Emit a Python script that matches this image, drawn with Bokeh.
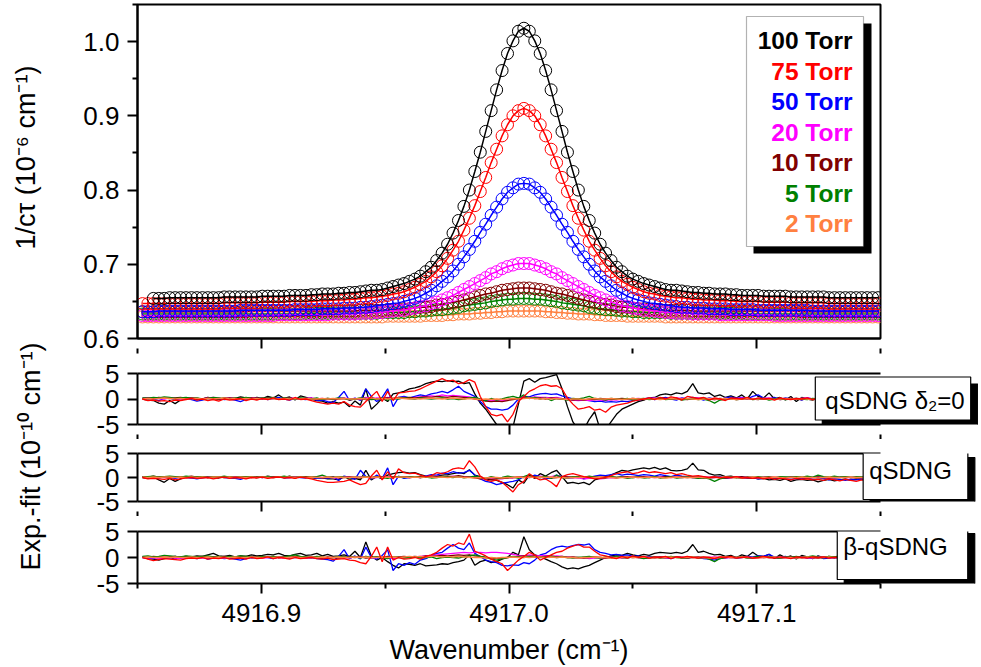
import math
from bokeh.plotting import figure
from bokeh.models import Range1d, FixedTicker, LinearAxis, Label, BoxAnnotation
from bokeh.layouts import column, row
from bokeh.embed import file_html
from bokeh.resources import INLINE

nan = float("nan")

# ---------------- data ----------------
WAVENUMBER = [
 4916.8520, 4916.8542, 4916.8564, 4916.8586, 4916.8608, 4916.8630, 4916.8652, 4916.8674, 4916.8696, 4916.8718,
 4916.8740, 4916.8762, 4916.8784, 4916.8806, 4916.8828, 4916.8850, 4916.8872, 4916.8894, 4916.8916, 4916.8938,
 4916.8960, 4916.8982, 4916.9004, 4916.9026, 4916.9048, 4916.9070, 4916.9092, 4916.9114, 4916.9136, 4916.9158,
 4916.9180, 4916.9202, 4916.9224, 4916.9246, 4916.9268, 4916.9290, 4916.9312, 4916.9334, 4916.9356, 4916.9378,
 4916.9400, 4916.9422, 4916.9444, 4916.9466, 4916.9488, 4916.9510, 4916.9532, 4916.9554, 4916.9576, 4916.9598,
 4916.9620, 4916.9642, 4916.9664, 4916.9686, 4916.9708, 4916.9730, 4916.9752, 4916.9774, 4916.9796, 4916.9818,
 4916.9840, 4916.9862, 4916.9884, 4916.9906, 4916.9928, 4916.9950, 4916.9972, 4916.9994, 4917.0016, 4917.0038,
 4917.0060, 4917.0082, 4917.0104, 4917.0126, 4917.0148, 4917.0170, 4917.0192, 4917.0214, 4917.0236, 4917.0258,
 4917.0280, 4917.0302, 4917.0324, 4917.0346, 4917.0368, 4917.0390, 4917.0412, 4917.0434, 4917.0456, 4917.0478,
 4917.0500, 4917.0522, 4917.0544, 4917.0566, 4917.0588, 4917.0610, 4917.0632, 4917.0654, 4917.0676, 4917.0698,
 4917.0720, 4917.0742, 4917.0764, 4917.0786, 4917.0808, 4917.0830, 4917.0852, 4917.0874, 4917.0896, 4917.0918,
 4917.0940, 4917.0962, 4917.0984, 4917.1006, 4917.1028, 4917.1050, 4917.1072, 4917.1094, 4917.1116, 4917.1138,
 4917.1160, 4917.1182, 4917.1204, 4917.1226, 4917.1248, 4917.1270, 4917.1292, 4917.1314, 4917.1336, 4917.1358,
 4917.1380, 4917.1402, 4917.1424, 4917.1446, 4917.1468, 4917.1490]

PRESSURES = ["100 Torr", "75 Torr", "50 Torr", "20 Torr", "10 Torr", "5 Torr", "2 Torr"]
COLORS = ["#000000", "#FF0000", "#0000FF", "#FF00FF", "#800000", "#008000", "#FF8040"]

# 1/(c tau), 10^-6 cm^-1
INV_CTAU_100 = [
 nan, nan, .654, .654, .654, .655, .655, .655, .655, .655,
 .655, .655, .655, .655, .655, .656, .656, .656, .656, .656,
 .656, .656, .657, .657, .657, .657, .657, .658, .658, .658,
 .658, .659, .659, .660, .660, .660, .661, .661, .662, .662,
 .663, .664, .665, .665, .666, .668, .670, .672, .674, .677,
 .680, .684, .690, .696, .705, .715, .727, .742, .759, .778,
 .800, .825, .851, .879, .907, .935, .961, .984, 1.001, 1.014,
 1.018, 1.014, 1.001, .984, .961, .935, .907, .879, .851, .825,
 .800, .778, .759, .742, .727, .715, .705, .696, .690, .684,
 .680, .677, .674, .672, .670, .668, .666, .665, .665, .664,
 .663, .662, .662, .661, .661, .660, .660, .660, .659, .659,
 .658, .658, .658, .658, .657, .657, .657, .657, .657, .656,
 .656, .656, .656, .656, .656, .656, .655, .655, .655, .655,
 .655, .655, .655, .655, .655, .655]
INV_CTAU_75 = [
 .647, .647, .647, .647, .647, .647, .647, .647, .647, .647,
 .647, .647, .647, .647, .647, .648, .648, .648, .648, .648,
 .648, .648, .649, .649, .649, .649, .649, .650, .650, .650,
 .650, .650, .651, .651, .651, .652, .652, .652, .653, .653,
 .654, .655, .655, .656, .657, .658, .660, .661, .663, .666,
 .669, .673, .677, .683, .690, .698, .708, .719, .731, .746,
 .762, .779, .798, .817, .837, .855, .873, .888, .900, .907,
 .910, .907, .900, .888, .873, .855, .837, .817, .798, .779,
 .762, .746, .731, .719, .708, .698, .690, .683, .677, .673,
 .669, .666, .663, .661, .660, .658, .657, .656, .655, .655,
 .654, .653, .653, .652, .652, .652, .651, .651, .651, .650,
 .650, .650, .650, .650, .649, .649, .649, .649, .649, .648,
 .648, .648, .648, .648, .648, .648, .647, .647, .647, .647,
 .647, .647, .647, .647, .647, .647]
INV_CTAU_50 = [
 .636, .636, .636, .637, .637, .637, .637, .637, .637, .637,
 .637, .637, .637, .637, .637, .637, .637, .637, .638, .638,
 .638, .638, .638, .638, .638, .638, .638, .638, .639, .639,
 .639, .639, .639, .640, .640, .640, .640, .641, .641, .641,
 .642, .642, .643, .644, .645, .646, .647, .648, .650, .652,
 .654, .657, .661, .665, .671, .677, .683, .691, .700, .710,
 .720, .731, .743, .754, .766, .777, .788, .797, .803, .808,
 .809, .808, .803, .797, .788, .777, .766, .754, .743, .731,
 .720, .710, .700, .691, .683, .677, .671, .665, .661, .657,
 .654, .652, .650, .648, .647, .646, .645, .644, .643, .642,
 .642, .641, .641, .641, .640, .640, .640, .640, .639, .639,
 .639, .639, .639, .638, .638, .638, .638, .638, .638, .638,
 .638, .638, .638, .637, .637, .637, .637, .637, .637, .637,
 .637, .637, .637, .637, .637, .637]
INV_CTAU_20 = [
 .631, .631, .631, .631, .631, .631, .631, .631, .631, .631,
 .631, .631, .631, .631, .631, .631, .631, .631, .631, .631,
 .631, .631, .631, .631, .631, .632, .632, .632, .632, .632,
 .632, .632, .632, .632, .632, .633, .633, .633, .633, .633,
 .634, .634, .634, .635, .635, .636, .637, .638, .638, .640,
 .641, .643, .644, .647, .649, .652, .655, .658, .662, .666,
 .670, .674, .678, .682, .687, .690, .694, .697, .699, .701,
 .701, .701, .699, .697, .694, .690, .687, .682, .678, .674,
 .670, .666, .662, .658, .655, .652, .649, .647, .644, .643,
 .641, .640, .638, .638, .637, .636, .635, .635, .634, .634,
 .634, .633, .633, .633, .633, .633, .632, .632, .632, .632,
 .632, .632, .632, .632, .632, .632, .631, .631, .631, .631,
 .631, .631, .631, .631, .631, .631, .631, .631, .631, .631,
 .631, .631, .631, .631, .631, .631]
INV_CTAU_10 = [
 .636, .636, .636, .636, .636, .636, .636, .636, .636, .636,
 .636, .636, .636, .636, .636, .636, .636, .636, .636, .636,
 .637, .637, .637, .637, .637, .637, .637, .637, .637, .637,
 .637, .637, .637, .637, .637, .637, .637, .637, .637, .637,
 .638, .638, .638, .638, .638, .639, .639, .639, .640, .640,
 .641, .642, .642, .643, .645, .646, .647, .649, .650, .652,
 .654, .656, .658, .660, .661, .663, .665, .666, .667, .668,
 .668, .668, .667, .666, .665, .663, .661, .660, .658, .656,
 .654, .652, .650, .649, .647, .646, .645, .643, .642, .642,
 .641, .640, .640, .639, .639, .639, .638, .638, .638, .638,
 .638, .637, .637, .637, .637, .637, .637, .637, .637, .637,
 .637, .637, .637, .637, .637, .637, .637, .637, .637, .637,
 .637, .636, .636, .636, .636, .636, .636, .636, .636, .636,
 .636, .636, .636, .636, .636, .636]
INV_CTAU_5 = [
 .633, .633, .633, .633, .633, .633, .633, .633, .633, .633,
 .633, .633, .633, .633, .633, .633, .633, .633, .633, .633,
 .633, .633, .633, .633, .633, .633, .633, .633, .633, .633,
 .634, .634, .634, .634, .634, .634, .634, .634, .634, .634,
 .634, .634, .634, .634, .635, .635, .635, .635, .635, .636,
 .636, .637, .637, .638, .639, .639, .640, .641, .642, .644,
 .645, .646, .647, .648, .650, .651, .652, .653, .653, .654,
 .654, .654, .653, .653, .652, .651, .650, .648, .647, .646,
 .645, .644, .642, .641, .640, .639, .639, .638, .637, .637,
 .636, .636, .635, .635, .635, .635, .635, .634, .634, .634,
 .634, .634, .634, .634, .634, .634, .634, .634, .634, .634,
 .634, .633, .633, .633, .633, .633, .633, .633, .633, .633,
 .633, .633, .633, .633, .633, .633, .633, .633, .633, .633,
 .633, .633, .633, .633, .633, .633]
INV_CTAU_2 = [
 .629, .629, .629, .629, .629, .629, .629, .629, .629, .629,
 .629, .629, .629, .629, .629, .629, .629, .629, .629, .629,
 .629, .629, .629, .629, .629, .629, .629, .629, .629, .629,
 .629, .629, .629, .629, .629, .629, .629, .629, .629, .629,
 .629, .629, .629, .629, .629, .630, .630, .630, .630, .630,
 .630, .630, .631, .631, .631, .631, .632, .632, .633, .633,
 .633, .634, .634, .635, .635, .636, .636, .637, .637, .637,
 .637, .637, .637, .637, .636, .636, .635, .635, .634, .634,
 .633, .633, .633, .632, .632, .631, .631, .631, .631, .630,
 .630, .630, .630, .630, .630, .630, .629, .629, .629, .629,
 .629, .629, .629, .629, .629, .629, .629, .629, .629, .629,
 .629, .629, .629, .629, .629, .629, .629, .629, .629, .629,
 .629, .629, .629, .629, .629, .629, .629, .629, .629, .629,
 .629, .629, .629, .629, .629, .629]

# Residuals exp.-fit, 10^-10 cm^-1 ; model qSDNG with delta2 = 0
RES_D0_100 = [
 0.0, -0.2, -0.3, -0.8, -1.0, -0.3, -0.9, -0.2, 0.1, 0.2,
 -0.1, 0.0, 0.3, 0.1, -0.1, 0.2, 0.0, 0.1, 0.4, 0.2,
 0.0, 0.3, 0.1, 0.5, 0.2, 0.8, 0.1, 0.4, -0.2, 0.6,
 0.3, 0.0, -0.3, -0.4, -0.8, -0.5, -0.8, -0.6, -1.5, -0.4,
 -1.2, 2.0, -2.0, -1.0, 0.2, -0.5, 1.0, 1.2, 1.5, 2.0,
 2.2, 2.5, 3.0, 3.3, 3.5, 3.4, 3.6, 3.4, 3.5, 3.0,
 3.2, 1.0, -0.8, -2.0, -3.5, -5.0, -5.8, -6.0, -5.5, -1.0,
 3.5, 4.0, 3.3, 4.0, 4.2, 4.5, 4.8, 2.0, -1.5, -4.5,
 -6.0, -6.0, -4.0, -2.5, -6.0, -6.0, -4.5, -3.0, -2.0, -1.5,
 -1.0, -0.5, -0.2, 0.2, 0.3, 0.8, 1.0, 0.8, 1.2, 1.0,
 1.5, 3.0, 1.2, 1.0, 1.2, 0.5, 0.8, 0.3, 0.6, 0.2,
 0.8, 0.0, 1.5, 0.5, 0.2, 1.2, 0.0, 0.3, -0.2, 0.5,
 -0.5, 0.3, 0.0, -0.2, 0.2, -0.1, 0.3, 0.0, -0.2, 0.1,
 0.2, -0.1, 0.0, 0.2, -0.1, 0.0]
RES_D0_75 = [
 0.0, -0.3, -0.2, -0.4, -0.3, -0.5, -0.2, -0.3, -0.1, 0.1,
 -0.2, 0.0, -0.3, -0.1, -0.4, 0.0, -0.2, -0.1, 0.1, -0.3,
 0.0, -0.2, 0.1, -0.1, 0.2, -0.1, 0.0, -0.2, 0.3, -0.1,
 0.0, -0.3, -0.6, -0.8, -1.0, -0.8, -1.0, -0.5, -1.2, -1.5,
 -1.6, -0.5, 0.5, 1.5, -0.5, 1.5, -0.3, 1.2, 1.3, 1.5,
 1.6, 2.0, 2.5, 3.0, 3.5, 4.0, 3.5, 3.7, 3.0, 3.2,
 3.8, 3.3, 0.5, -1.5, -3.0, -3.3, -3.0, -4.5, -3.0, -0.5,
 0.5, 1.5, 2.0, 2.6, 2.8, 2.5, 2.6, 2.0, 0.2, -1.0,
 -2.0, -1.8, -1.5, -2.2, -2.0, -2.6, -1.6, -1.2, -1.0, -0.8,
 -0.4, -0.2, 0.0, 0.2, -0.1, 0.3, 0.0, 0.4, 0.2, -0.2,
 0.5, 0.3, 0.1, 0.3, -0.2, 0.2, 0.0, -0.3, 0.2, 0.1,
 0.0, 0.3, -0.1, 0.2, 0.0, 0.1, -0.2, 0.2, 0.0, -0.1,
 0.1, 0.0, 0.2, -0.1, 0.1, 0.0, -0.2, 0.1, 0.0, 0.2,
 -0.1, 0.0, 0.1, -0.1, 0.0, 0.1]
RES_D0_50 = [
 0.1, 0.2, 0.0, -0.3, 0.1, 0.2, -0.2, 0.0, 0.1, -0.1,
 -0.4, -0.2, 0.1, 0.0, 0.2, -0.1, 0.0, -0.2, -0.5, -0.1,
 0.1, 0.0, 0.2, -0.1, 0.1, 0.3, 0.0, -0.2, 0.1, 0.0,
 -0.1, 0.2, -0.3, -0.2, -0.5, -0.7, 0.3, 1.5, -0.3, 0.2,
 -0.3, 2.0, 0.5, -0.5, 0.3, 2.0, -1.5, 0.3, 0.5, 0.2,
 0.5, 0.8, 0.6, 1.0, 1.2, 1.5, 1.2, 1.8, 2.5, 1.5,
 1.0, 0.5, -0.5, -1.5, -2.0, -2.0, -2.2, -2.0, -1.2, 0.0,
 0.5, 0.4, 0.8, 1.0, 1.1, 0.9, 1.0, 0.6, 0.3, 0.0,
 -0.2, -0.1, -0.3, -0.5, -0.4, -0.6, -0.5, -0.6, -0.4, -0.5,
 -0.3, -0.2, 0.0, 0.2, -0.1, 0.1, 0.3, 0.0, -0.2, 0.2,
 0.0, 0.3, 0.1, -0.2, 0.2, 0.0, -0.1, 0.2, 0.4, 0.1,
 0.3, 0.0, 0.5, 0.8, 0.2, 0.0, 0.3, -0.1, 0.2, 0.0,
 0.1, -0.2, 0.2, 0.0, -0.1, 0.2, 0.0, 0.1, -0.2, 0.1,
 0.0, 0.2, -0.1, 0.0, 0.1, 0.0]
RES_D0_20 = [
 0.0, 0.1, 0.2, 0.1, 0.0, 0.2, 0.1, 0.0, 0.1, 0.2,
 0.1, 0.0, 0.2, 0.3, 0.1, 0.0, 0.2, 0.1, 0.0, 0.1,
 0.2, 0.1, 0.0, 0.1, 0.2, 0.0, 0.1, 0.2, 0.1, 0.0,
 0.1, 0.2, 0.0, 0.1, -0.1, 0.0, 0.1, 0.2, 0.0, 0.1,
 -0.1, 0.3, 0.0, 0.2, 0.1, 0.3, 0.0, 0.2, 0.3, 0.2,
 0.3, 0.4, 0.5, 0.6, 0.5, 0.8, 0.6, 0.7, 0.6, 0.5,
 0.4, 0.2, -0.1, -0.3, -0.2, -0.4, -0.3, -0.2, 0.0, 0.2,
 0.3, 0.2, 0.4, 0.3, 0.3, 0.2, 0.3, 0.1, 0.0, -0.2,
 -0.3, -0.2, -0.3, -0.1, -0.2, -0.3, -0.1, -0.2, 0.0, -0.1,
 0.0, 0.1, 0.0, 0.1, 0.2, 0.0, 0.1, 0.0, 0.2, 0.1,
 0.0, 0.1, 0.2, 0.0, 0.1, -0.1, 0.0, 0.1, 0.0, 0.1,
 0.2, 0.0, 0.1, 0.0, 0.1, 0.2, 0.0, 0.1, 0.0, 0.1,
 0.0, 0.1, 0.2, 0.0, 0.1, 0.0, 0.1, 0.0, 0.2, 0.1,
 0.0, 0.1, 0.0, 0.1, 0.0, 0.1]
RES_D0_10 = [
 0.1, 0.2, 0.1, 0.3, 0.2, 0.1, 0.2, 0.3, 0.1, 0.2,
 0.1, 0.0, 0.2, 0.1, 0.0, 0.1, 0.2, 0.1, 0.0, 0.1,
 0.2, 0.1, 0.0, 0.2, 0.1, 0.0, 0.1, 0.2, 0.0, 0.1,
 0.0, 0.1, -0.1, 0.0, 0.1, -0.1, 0.0, 0.1, -0.2, 0.0,
 0.1, -0.1, 0.2, 0.0, 0.1, 0.2, 0.1, 0.3, 0.2, 0.3,
 0.2, 0.3, 0.4, 0.3, 0.5, 0.4, 0.3, 0.5, 0.4, 0.3,
 0.2, 0.0, -0.2, -0.4, -0.5, -0.4, -0.5, -0.3, -0.1, 0.1,
 0.2, 0.3, 0.1, 0.2, 0.0, 0.2, 0.1, 0.0, -0.1, -0.2,
 -0.1, -0.2, 0.0, -0.1, 0.1, 0.0, -0.1, 0.0, 0.1, 0.0,
 0.1, 0.0, -0.1, 0.1, 0.0, 0.2, 0.1, 0.0, 0.1, 0.0,
 -0.1, 0.1, 0.0, 0.2, 0.0, -0.1, 0.1, 0.0, 0.1, -0.1,
 0.0, 0.1, 0.0, -0.1, 0.1, 0.0, 0.1, -0.1, 0.0, 0.1,
 0.0, -0.1, 0.1, 0.0, 0.0, 0.1, -0.1, 0.0, 0.1, 0.0,
 -0.1, 0.0, 0.1, 0.0, -0.1, 0.0]
RES_D0_5 = [
 0.2, 0.1, 0.3, 0.2, 0.4, 0.3, 0.1, 0.2, 0.3, 0.1,
 0.2, 0.0, 0.1, 0.3, 0.2, 0.1, 0.0, 0.2, 0.1, 0.3,
 0.1, 0.0, 0.2, 0.1, 0.3, 0.0, 0.2, 0.1, 0.0, 0.2,
 0.1, 0.0, 0.2, -0.1, 0.1, 0.0, 0.2, 0.1, -0.1, 0.0,
 0.2, 0.1, -0.1, 0.0, 0.2, -0.2, 0.1, 0.0, 0.2, 0.1,
 0.0, 0.2, 0.1, 0.0, 0.1, 0.2, 0.0, 0.1, -0.1, 0.0,
 0.2, 0.3, 0.0, -0.3, 0.1, -0.2, 0.0, 0.3, 0.5, 0.2,
 0.8, 0.1, 0.3, 0.0, 0.2, -0.3, 0.1, 0.0, -0.2, 0.1,
 0.0, 0.2, 0.5, 0.1, 0.0, -0.2, 0.1, 0.0, -0.1, 0.1,
 -0.2, 0.0, 0.1, -0.1, 0.0, 0.2, -0.1, 0.0, 0.1, -0.2,
 0.0, 0.1, -0.1, 0.0, -0.3, -0.8, -0.2, 0.0, 0.1, -0.1,
 0.0, 0.2, -0.1, 0.0, 0.1, -0.2, 0.0, 0.1, -0.1, 0.0,
 0.1, 0.0, -0.1, 0.1, 0.0, -0.1, 0.0, 0.1, 0.0, -0.1,
 0.0, 0.1, 0.0, -0.1, 0.0, 0.1]
RES_D0_2 = [
 0.0, 0.1, 0.0, 0.1, 0.2, 0.1, 0.0, 0.1, 0.0, 0.1,
 0.1, 0.0, 0.1, 0.0, 0.1, 0.2, 0.0, 0.1, 0.0, 0.1,
 0.0, 0.1, 0.1, 0.0, 0.1, 0.0, 0.1, 0.0, 0.1, 0.0,
 0.1, 0.0, 0.0, 0.1, 0.0, 0.1, 0.0, 0.1, 0.0, 0.0,
 0.1, 0.0, 0.2, 0.0, 0.1, 0.0, 0.1, 0.2, 0.1, 0.0,
 0.1, 0.0, 0.1, 0.2, 0.1, 0.0, 0.1, 0.2, 0.1, 0.0,
 0.1, 0.0, -0.1, 0.0, -0.1, 0.0, -0.1, 0.0, 0.1, 0.0,
 0.1, 0.2, 0.1, 0.0, 0.1, 0.0, 0.1, 0.0, -0.1, 0.0,
 0.0, -0.1, 0.0, 0.1, 0.0, 0.0, 0.1, 0.0, -0.1, 0.0,
 0.1, 0.0, 0.0, 0.1, 0.0, -0.1, 0.0, 0.1, 0.0, 0.0,
 0.1, 0.0, -0.1, 0.0, 0.1, 0.0, 0.0, 0.1, 0.0, -0.1,
 0.0, 0.1, 0.0, 0.0, 0.1, 0.0, -0.1, 0.0, 0.1, 0.0,
 0.0, 0.1, 0.0, -0.1, 0.0, 0.1, 0.0, 0.0, 0.1, 0.0,
 0.0, -0.1, 0.0, 0.1, 0.0, 0.0]

# model qSDNG
RES_Q_100 = [
 0.0, -0.2, 0.1, -0.5, -1.0, -0.2, -0.8, -0.3, 0.1, 0.0,
 -0.2, 0.1, 0.2, 0.0, -0.1, 0.2, 0.1, 0.0, 0.2, -0.1,
 0.1, 0.2, 0.0, 0.3, 0.1, 0.2, 0.0, 0.3, -0.1, 0.2,
 0.1, 0.0, -0.2, -0.1, -0.3, -0.3, -0.5, 0.2, -0.4, -0.2,
 -0.5, 1.5, -0.5, 0.2, -0.3, 0.5, 0.8, 1.0, 1.1, 0.9,
 1.0, 0.6, 0.3, 0.2, 0.3, 0.5, 0.6, 0.8, 1.0, 0.8,
 1.6, 0.5, 0.2, -0.3, -0.5, -0.6, -1.0, -1.5, -2.2, -0.5,
 -1.2, 0.5, -0.2, 0.8, 0.3, 1.0, 1.5, 0.2, -1.2, -1.0,
 -1.3, -1.0, -1.5, -0.5, -0.2, 0.0, 0.5, 1.0, 1.5, 1.3,
 1.6, 1.8, 2.0, 1.8, 2.1, 1.7, 2.0, 1.5, 1.4, 1.5,
 1.8, 3.0, 1.6, 1.5, 0.8, 0.5, 0.6, 0.2, 0.3, 0.0,
 0.2, -0.2, 0.0, -0.3, -0.2, -0.5, -0.4, -0.6, -0.3, -0.8,
 -0.5, -0.4, -0.6, -0.5, -0.9, -0.6, -0.4, -0.7, -0.5, -0.3,
 -0.6, -0.4, -0.3, -0.5, -0.2, -0.3]
RES_Q_75 = [
 0.0, -0.3, -0.2, -0.3, -0.4, -0.2, -0.5, -0.3, -0.1, 0.0,
 -0.2, -0.1, 0.0, -0.3, -0.1, 0.1, -0.2, 0.0, -0.1, -0.3,
 0.0, -0.1, 0.1, -0.2, 0.0, 0.1, -0.1, 0.0, -0.2, 0.1,
 -0.1, -0.3, -0.6, -0.8, -1.0, -1.0, -0.9, -0.8, -0.5, -1.0,
 -1.5, -1.2, 0.3, 1.5, -0.5, 1.2, -0.3, 1.8, 1.0, 0.8,
 0.9, 0.5, 0.2, 0.4, 1.0, 0.8, 1.2, 1.8, 2.0, 1.8,
 3.5, 2.2, 0.3, -0.5, -0.8, -0.5, -1.0, -2.0, -3.0, -1.5,
 -0.8, 0.8, 0.0, -0.5, -0.3, -1.0, -1.9, 0.2, 0.6, 0.8,
 0.5, 0.2, 0.0, -0.3, -0.2, 0.0, 0.4, 0.8, 1.0, 1.2,
 0.8, 1.0, 1.4, 1.0, 1.2, 1.0, 0.8, 1.0, 0.6, 0.8,
 0.5, 0.3, 0.4, 0.2, 0.0, 0.1, -0.1, 0.1, 0.0, 0.2,
 -0.1, 0.0, -0.2, 0.0, -0.3, -0.1, -0.4, -0.2, -0.3, -0.5,
 -0.2, -0.4, -0.3, -0.5, -0.4, -0.6, -0.3, -0.5, -0.7, -0.4,
 -0.6, -0.8, -0.5, -0.7, -0.6, -0.8]
RES_Q_50 = [
 0.1, 0.0, 0.2, -0.1, 0.1, 0.0, -0.2, 0.1, 0.0, -0.1,
 -0.3, -0.1, 0.1, 0.0, 0.2, 0.0, -0.1, -0.2, -0.4, 0.0,
 0.1, 0.0, 0.2, 0.0, 0.1, 0.2, -0.1, 0.0, 0.1, 0.0,
 -0.1, 0.1, -0.2, -0.1, -0.2, 0.2, -0.6, 0.3, 0.0, -0.4,
 1.5, 0.2, -0.3, 0.5, -0.2, 2.0, -1.5, 0.3, -0.2, 0.0,
 0.2, 0.0, 0.3, 0.6, 0.5, 0.9, 0.8, 1.2, 0.9, 1.0,
 1.5, 0.5, -0.3, -0.8, -1.0, -1.5, -1.2, -1.0, -0.8, -0.5,
 0.2, 0.0, 0.5, 0.2, -0.3, 0.0, 0.5, 0.2, -0.2, 0.0,
 0.2, -0.3, 0.0, 0.3, 0.5, 0.4, 0.6, 0.8, 0.5, 0.7,
 0.6, 0.4, 0.6, 0.5, 0.3, 0.6, 0.4, 0.2, 0.5, 0.3,
 0.2, 0.0, 0.2, 0.1, -0.1, 0.0, 0.2, -0.2, 0.0, 0.1,
 -0.2, -0.1, 0.0, -0.3, -0.2, 0.0, -0.3, -0.1, -0.2, -0.4,
 -0.2, -0.3, -0.1, -0.4, -0.3, -0.2, -0.5, -0.3, -0.4, -0.6,
 -0.4, -0.5, -0.3, -0.6, -0.5, -0.7]
RES_Q_20 = [
 0.1, 0.0, 0.2, 0.1, 0.0, 0.1, 0.2, 0.0, 0.1, 0.0,
 0.2, 0.1, 0.0, 0.1, 0.2, 0.1, 0.0, 0.2, 0.1, 0.0,
 0.1, 0.2, 0.0, 0.1, 0.0, 0.2, 0.1, 0.0, 0.2, 0.1,
 0.0, 0.1, 0.2, 0.0, 0.1, -0.1, 0.0, 0.2, 0.1, 0.0,
 0.1, 0.2, -0.1, 0.0, 0.2, 0.1, 0.0, 0.1, 0.2, 0.0,
 0.1, 0.0, 0.2, 0.1, 0.3, 0.2, 0.1, 0.3, 0.2, 0.1,
 0.2, 0.0, -0.2, -0.3, -0.1, -0.2, -0.3, 0.0, -0.1, 0.1,
 0.2, 0.0, 0.1, 0.3, 0.1, 0.2, 0.4, 0.2, 0.1, 0.0,
 -0.1, -0.3, -0.2, -0.1, -0.3, -0.2, 0.0, -0.1, 0.1, 0.0,
 0.1, 0.0, 0.2, 0.1, 0.0, 0.1, 0.2, 0.0, 0.1, 0.0,
 0.1, 0.0, -0.1, 0.1, 0.0, 0.1, 0.0, -0.1, 0.0, 0.1,
 0.0, 0.1, 0.0, -0.1, 0.1, 0.0, 0.0, 0.1, -0.1, 0.0,
 0.1, 0.0, -0.1, 0.0, 0.1, 0.0, -0.1, 0.0, 0.1, 0.0,
 0.0, 0.1, 0.0, -0.1, 0.0, 0.1]
RES_Q_10 = [
 0.2, 0.1, 0.3, 0.1, 0.2, 0.0, 0.1, 0.2, 0.1, 0.3,
 0.1, 0.2, 0.0, 0.1, 0.2, 0.0, 0.1, 0.0, 0.2, 0.1,
 0.0, 0.2, 0.1, 0.0, 0.1, 0.2, 0.0, 0.1, 0.0, 0.1,
 0.2, 0.0, 0.1, -0.1, 0.0, 0.1, -0.1, 0.0, 0.1, 0.0,
 -0.1, 0.1, 0.0, 0.2, 0.1, 0.0, 0.2, 0.1, 0.2, 0.0,
 0.1, 0.2, 0.1, 0.3, 0.2, 0.1, 0.3, 0.2, 0.4, 0.2,
 0.1, -0.1, -0.3, -0.2, -0.4, -0.3, -0.2, -0.1, 0.0, 0.1,
 0.0, 0.2, 0.1, 0.0, 0.1, -0.1, 0.0, 0.2, 0.1, 0.0,
 0.1, 0.0, 0.2, 0.1, 0.0, 0.2, 0.1, 0.0, 0.1, 0.2,
 0.0, 0.1, 0.2, 0.0, 0.1, 0.0, 0.2, 0.1, 0.0, 0.1,
 0.0, 0.1, 0.0, -0.1, 0.0, 0.1, 0.0, -0.1, 0.0, 0.0,
 0.1, 0.0, -0.1, 0.0, 0.0, 0.1, 0.0, -0.1, 0.0, 0.1,
 0.0, 0.0, -0.1, 0.0, 0.1, 0.0, -0.1, 0.0, 0.0, 0.1,
 0.0, -0.1, 0.0, 0.0, 0.1, 0.0]
RES_Q_5 = [
 0.1, 0.2, 0.3, 0.1, 0.2, 0.3, 0.2, 0.1, 0.3, 0.2,
 0.1, 0.2, 0.0, 0.2, 0.1, 0.3, 0.1, 0.0, 0.2, 0.1,
 0.2, 0.0, 0.1, 0.2, 0.0, 0.1, 0.3, 0.1, 0.0, 0.2,
 0.0, 0.1, 0.2, 0.5, 0.1, 0.0, 0.2, 0.1, -0.1, 0.1,
 0.0, 0.2, -0.1, 0.1, 0.0, -0.2, 0.1, 0.2, 0.0, 0.1,
 0.2, 0.0, 0.1, -0.1, 0.0, 0.2, 0.1, 0.0, 0.2, -0.1,
 0.1, 0.3, 0.0, -0.2, 0.2, -0.1, 0.0, 0.3, 0.1, -0.2,
 0.2, 0.6, 0.1, 0.0, 0.3, -0.2, 0.5, 0.0, -0.1, 0.2,
 0.1, 0.0, 0.3, 0.1, 0.0, -0.1, 0.2, 0.0, 0.1, -0.2,
 0.0, 0.1, -0.1, 0.0, 0.2, -0.1, 0.0, 0.1, -0.1, 0.0,
 0.1, 0.0, -0.2, 0.0, -0.3, -0.8, -0.3, 0.0, 0.1, 0.0,
 -0.1, 0.1, 0.0, 0.2, 0.0, 0.1, -0.1, 0.2, 0.1, 0.0,
 0.2, 0.1, 0.3, 0.1, 0.5, 0.2, 0.1, 0.3, 0.1, 0.2,
 0.0, 0.2, 0.1, 0.0, 0.2, 0.1]
RES_Q_2 = [
 0.1, 0.0, 0.1, 0.0, 0.1, 0.1, 0.0, 0.1, 0.0, 0.1,
 0.0, 0.1, 0.0, 0.1, 0.1, 0.0, 0.1, 0.0, 0.1, 0.0,
 0.1, 0.0, 0.1, 0.0, 0.0, 0.1, 0.0, 0.1, 0.0, 0.1,
 0.0, 0.1, 0.0, 0.0, 0.1, 0.0, 0.1, 0.0, 0.0, 0.1,
 0.0, 0.1, 0.0, 0.1, 0.0, 0.1, 0.0, 0.1, 0.1, 0.0,
 0.1, 0.0, 0.1, 0.1, 0.0, 0.1, 0.0, 0.1, 0.1, 0.0,
 0.0, -0.1, 0.0, -0.1, 0.0, 0.0, -0.1, 0.0, 0.0, 0.1,
 0.0, 0.1, 0.0, 0.1, 0.0, 0.1, 0.0, 0.0, -0.1, 0.0,
 0.0, 0.1, 0.0, 0.0, 0.1, 0.0, 0.0, -0.1, 0.0, 0.0,
 0.1, 0.0, 0.0, 0.1, 0.0, 0.0, -0.1, 0.0, 0.1, 0.0,
 0.0, 0.0, 0.1, 0.0, -0.1, 0.0, 0.0, 0.1, 0.0, 0.0,
 -0.1, 0.0, 0.1, 0.0, 0.0, 0.0, 0.1, 0.0, -0.1, 0.0,
 0.0, 0.1, 0.0, 0.0, -0.1, 0.0, 0.1, 0.0, 0.0, 0.0,
 0.1, 0.0, 0.0, -0.1, 0.0, 0.0]

# model beta-qSDNG
RES_B_100 = [
 0.0, -0.2, -0.3, -0.5, -0.2, 0.0, -0.3, 0.1, 0.2, 0.1,
 0.3, 0.2, 0.5, 0.8, 0.3, 0.2, 0.4, 0.1, 0.3, 0.2,
 0.5, 0.3, 0.4, 0.6, 0.5, 0.8, 0.4, 0.3, 0.6, 0.8,
 0.4, 0.5, 0.8, 0.3, 0.6, 0.2, 0.3, 0.5, 0.2, 1.2,
 0.0, 3.0, 0.3, -0.5, 0.0, -0.8, -1.5, -2.0, -1.2, -1.3,
 -1.5, -1.2, -1.6, -1.5, -1.4, -1.2, -1.3, -1.0, -0.8, -0.5,
 0.5, -1.5, -0.8, -0.5, -1.0, -0.8, -0.3, 0.0, 1.0, 0.5,
 4.0, 1.5, 0.5, 0.2, -0.3, -0.8, -1.2, -1.8, -2.2, -2.0,
 -2.2, -1.8, -1.5, -1.0, -0.5, 0.0, 0.3, 0.5, 0.4, 0.8,
 0.5, 0.3, 0.6, 0.4, 0.8, 1.0, 0.9, 0.8, 1.0, 0.8,
 1.2, 2.5, 1.0, 1.2, 0.8, 0.5, 0.6, 0.2, 0.4, 0.0,
 0.5, 0.2, 1.0, 0.3, 0.2, 0.6, -0.2, 0.5, 0.0, 0.3,
 -0.3, 0.4, 0.1, -0.2, 0.3, 0.0, 0.2, -0.1, 0.1, 0.0,
 0.2, -0.1, 0.1, 0.0, -0.1, 0.1]
RES_B_75 = [
 0.0, -0.3, -0.6, -0.4, -0.2, -0.3, -0.4, -0.5, -0.2, -0.1,
 -0.2, 0.0, -0.3, -0.1, -0.2, 0.0, -0.3, -0.2, -0.1, -0.3,
 0.0, -0.2, -0.1, 0.1, -0.2, 0.0, -0.1, -0.3, 0.0, -0.2,
 -0.1, 0.0, -0.2, -0.3, -0.1, -0.4, -0.3, -0.2, -0.5, -0.6,
 -1.0, -1.2, 0.2, 2.0, -0.8, 2.0, -0.5, 0.0, -0.3, -0.2,
 0.0, -0.3, 0.2, 0.5, 1.0, 1.8, 2.5, 2.2, 2.8, 2.5,
 4.5, 1.2, 0.8, 0.3, -0.3, -0.8, -1.2, -2.5, -1.5, -0.5,
 0.2, 1.0, 0.5, -0.5, 0.0, 0.5, 1.0, 1.2, 1.8, 2.2,
 2.5, 2.0, 2.0, 1.2, 0.5, 0.3, 0.0, -0.2, 0.2, -0.1,
 0.3, 0.0, 0.2, -0.1, 0.1, 0.0, 0.2, -0.2, 0.1, 0.0,
 0.2, 0.0, -0.1, 0.1, 0.0, -0.2, 0.1, 0.0, 0.2, -0.1,
 0.0, 0.1, -0.1, 0.0, 0.2, 0.0, -0.1, 0.1, 0.0, -0.2,
 0.1, 0.0, -0.1, 0.1, 0.0, 0.1, -0.1, 0.0, 0.1, 0.0,
 -0.1, 0.0, 0.1, 0.0, -0.1, 0.0]
RES_B_50 = [
 0.1, 0.0, -0.2, 0.1, 0.0, -0.1, 0.2, 0.0, -0.1, 0.1,
 -0.2, 0.0, -0.3, -0.1, 0.0, -0.2, -0.1, -0.3, -0.5, -0.2,
 0.0, -0.1, 0.1, 0.0, -0.2, 0.1, 0.0, -0.1, 0.0, 0.1,
 -0.1, 0.0, -0.2, -0.3, -0.4, -0.7, 0.2, 1.5, -0.2, 0.3,
 -0.3, 2.0, 0.0, -0.3, 0.4, 1.5, -2.5, -1.2, -1.5, -1.0,
 -1.3, -0.5, -0.2, 0.3, 0.8, 1.0, 1.8, 2.5, 1.8, 1.5,
 2.8, 0.8, 0.2, -0.5, -0.8, -1.0, -1.5, -1.6, -1.4, -1.5,
 -1.0, -1.2, -0.5, 0.5, 0.8, 1.5, 2.0, 2.2, 2.0, 2.3,
 2.5, 2.4, 2.6, 1.5, 1.0, 0.8, 0.5, 0.6, 0.4, 0.5,
 0.2, 0.3, 0.0, 0.2, -0.1, 0.1, 0.0, -0.2, 0.1, 0.0,
 -0.1, 0.1, 0.0, -0.2, -0.3, -0.5, -0.2, 0.0, 0.1, -0.1,
 0.0, 0.2, 0.1, 0.3, 0.2, 0.6, 0.1, 0.0, 0.2, -0.1,
 0.0, 0.1, -0.1, 0.0, 0.2, -0.2, -0.1, 0.0, -0.3, -0.1,
 -0.2, 0.0, -0.3, -0.1, -0.2, -0.3]
RES_B_20 = [
 0.0, -0.1, 0.0, -0.2, -0.1, 0.0, -0.1, -0.2, 0.0, -0.1,
 0.0, -0.1, 0.0, 0.1, 0.0, -0.1, 0.0, 0.1, -0.1, 0.0,
 0.1, 0.0, -0.1, 0.0, 0.1, 0.0, -0.1, 0.0, 0.1, 0.0,
 -0.1, 0.0, 0.1, 0.0, -0.1, 0.0, 0.1, 0.0, -0.1, 0.1,
 0.0, 0.2, -0.1, 0.0, 0.1, 0.0, -0.2, 0.0, 0.1, 0.0,
 0.1, 0.2, 0.3, 0.4, 0.5, 0.6, 0.7, 0.8, 0.9, 1.0,
 0.9, 1.0, 1.0, 0.9, 1.0, 1.0, 0.9, 0.8, 0.6, 0.4,
 0.3, 0.5, 0.4, 0.3, 0.4, 0.2, 0.3, 0.2, 0.1, 0.0,
 -0.1, 0.0, -0.2, -0.1, 0.0, -0.1, 0.1, 0.0, -0.1, 0.0,
 0.1, 0.0, -0.1, 0.0, 0.1, 0.0, -0.1, 0.0, 0.1, 0.0,
 0.0, 0.1, 0.0, -0.1, 0.0, 0.1, 0.0, -0.1, 0.0, 0.0,
 0.1, 0.0, -0.1, 0.0, 0.0, 0.1, 0.0, -0.1, 0.0, 0.0,
 0.1, 0.0, 0.0, -0.1, 0.0, 0.1, 0.0, 0.0, -0.1, 0.0,
 0.0, 0.1, 0.0, 0.0, -0.1, 0.0]
RES_B_10 = [
 0.1, 0.0, 0.2, 0.1, 0.0, 0.1, 0.2, 0.0, 0.1, 0.0,
 0.1, 0.2, 0.0, 0.1, 0.0, 0.2, 0.1, 0.0, 0.1, 0.2,
 0.0, 0.1, 0.0, 0.1, 0.2, 0.0, 0.1, 0.0, 0.2, 0.1,
 0.0, 0.1, 0.0, -0.1, 0.1, 0.0, -0.1, 0.0, 0.1, 0.0,
 0.1, -0.1, 0.0, 0.1, 0.0, 0.2, 0.0, 0.1, 0.2, 0.1,
 0.2, 0.1, 0.3, 0.2, 0.3, 0.4, 0.3, 0.4, 0.5, 0.4,
 0.5, 0.3, 0.2, 0.0, -0.1, -0.2, -0.1, 0.0, 0.1, 0.2,
 0.3, 0.2, 0.3, 0.1, 0.2, 0.3, 0.1, 0.2, 0.0, 0.1,
 0.0, -0.1, 0.0, 0.1, 0.0, -0.1, 0.0, 0.1, 0.0, 0.1,
 0.0, 0.1, 0.0, -0.1, 0.0, 0.1, 0.0, 0.0, 0.1, 0.0,
 -0.1, 0.0, 0.1, 0.0, 0.0, -0.1, 0.0, 0.1, 0.0, 0.0,
 0.1, 0.0, -0.1, 0.0, 0.1, 0.0, 0.0, -0.1, 0.0, 0.1,
 0.0, 0.0, 0.1, 0.0, -0.1, 0.0, 0.0, 0.1, 0.0, 0.0,
 -0.1, 0.0, 0.0, 0.1, 0.0, 0.0]
RES_B_5 = [
 0.2, 0.3, 0.1, 0.2, 0.4, 0.3, 0.2, 0.1, 0.3, 0.2,
 0.1, 0.2, 0.3, 0.1, 0.2, 0.0, 0.2, 0.1, 0.3, 0.2,
 0.1, 0.0, 0.2, 0.1, 0.2, 0.0, 0.1, 0.3, 0.5, 0.2,
 0.1, 0.0, 0.2, 0.1, -0.1, 0.0, 0.2, 0.1, 0.0, 0.1,
 -0.1, 0.2, 0.0, 0.1, 0.0, -0.2, 0.1, 0.0, -0.1, 0.0,
 0.1, -0.1, 0.0, 0.1, -0.2, 0.0, 0.1, 0.0, -0.1, 0.1,
 0.3, 0.5, 0.2, 0.0, -0.3, -0.5, -0.2, 0.0, 0.2, 0.1,
 0.0, 0.2, 0.1, 0.0, 0.1, 0.2, 0.0, 0.1, 0.0, -0.1,
 0.0, 0.1, 0.2, 0.0, -0.1, 0.1, 0.0, 0.2, 0.0, -0.1,
 0.1, 0.0, -0.2, 0.0, 0.1, -0.1, 0.0, 0.2, 0.0, -0.1,
 0.0, 0.1, -0.1, 0.0, -0.3, -0.8, -0.2, 0.0, 0.1, 0.0,
 0.1, -0.1, 0.0, 0.2, 0.0, 0.1, 0.0, -0.1, 0.1, 0.0,
 0.2, 0.0, 0.1, 0.3, 0.1, 0.0, 0.2, 0.1, 0.3, 0.2,
 0.4, 0.2, 0.3, 0.5, 0.3, 0.4]
RES_B_2 = [
 0.0, 0.1, 0.0, 0.0, 0.1, 0.0, 0.1, 0.0, 0.0, 0.1,
 0.0, 0.0, 0.1, 0.0, 0.1, 0.0, 0.0, 0.1, 0.0, 0.0,
 0.1, 0.0, 0.0, 0.1, 0.0, 0.1, 0.0, 0.0, 0.1, 0.0,
 0.0, 0.1, 0.0, 0.1, 0.0, 0.0, 0.1, 0.0, 0.0, 0.1,
 0.0, 0.1, 0.0, 0.0, 0.1, 0.0, 0.1, 0.0, 0.1, 0.2,
 0.1, 0.2, 0.1, 0.2, 0.2, 0.1, 0.2, 0.1, 0.2, 0.1,
 0.1, 0.0, 0.0, -0.1, 0.0, -0.1, 0.0, 0.0, 0.1, 0.0,
 0.1, 0.0, 0.1, 0.1, 0.0, 0.1, 0.0, 0.1, 0.0, 0.0,
 -0.1, 0.0, 0.0, 0.1, 0.0, 0.0, -0.1, 0.0, 0.0, 0.1,
 0.0, 0.0, 0.1, 0.0, -0.1, 0.0, 0.0, 0.1, 0.0, 0.0,
 0.0, 0.1, 0.0, 0.0, -0.1, 0.0, 0.0, 0.1, 0.0, 0.0,
 0.1, 0.0, 0.0, -0.1, 0.0, 0.0, 0.1, 0.0, 0.0, 0.0,
 -0.1, 0.0, 0.1, 0.0, 0.0, 0.0, 0.1, 0.0, -0.1, 0.0,
 0.0, 0.1, 0.0, 0.0, 0.0, 0.1]

MAIN = [INV_CTAU_100, INV_CTAU_75, INV_CTAU_50, INV_CTAU_20, INV_CTAU_10, INV_CTAU_5, INV_CTAU_2]
RES_D0 = [RES_D0_100, RES_D0_75, RES_D0_50, RES_D0_20, RES_D0_10, RES_D0_5, RES_D0_2]
RES_Q = [RES_Q_100, RES_Q_75, RES_Q_50, RES_Q_20, RES_Q_10, RES_Q_5, RES_Q_2]
RES_B = [RES_B_100, RES_B_75, RES_B_50, RES_B_20, RES_B_10, RES_B_5, RES_B_2]
MODEL_NAMES = ["qSDNG δ₂=0", "qSDNG", "β-qSDNG"]

X_TICKS = [4916.9, 4917.0, 4917.1]
X_TICK_LABELS = ["4916.9", "4917.0", "4917.1"]
X_MINOR = [4916.85, 4916.95, 4917.05, 4917.15]
Y_TICKS = [0.6, 0.7, 0.8, 0.9, 1.0]
Y_TICK_LABELS = ["0.6", "0.7", "0.8", "0.9", "1.0"]
Y_MINOR = [0.65, 0.75, 0.85, 0.95, 1.05]
RES_TICKS = [-5, 0, 5]
RES_TICK_LABELS = ["-5", "0", "5"]

# ---------------- layout ----------------
FONT = "Liberation Sans"
LAB_W = 68            # strip holding the y titles
FIG_W = 910
B_LEFT = 69           # frame left at 137 px
MAIN_B_RIGHT = 98     # main frame right at 880 px
TOTAL_H = 667
X0, X1 = 4916.85, 4917.15
PX_PER_UNIT = 743 / 0.30
RES_X1 = X0 + (FIG_W - B_LEFT) / PX_PER_UNIT   # same scale, frame extends under the model boxes

main_xr = Range1d(X0, X1)
res_xr = Range1d(X0, RES_X1)


def px_to_x(px):
    return X0 + (px - 137) / PX_PER_UNIT


def main_y(py):
    return 1.05 - (py - 4) * 0.45 / 334


def no_align(p):
    try:
        p.frame_align = False
    except Exception:
        pass


def style_common(ax):
    ax.axis_line_width = 2
    ax.axis_line_color = "black"
    ax.major_tick_line_width = 2
    ax.minor_tick_line_width = 2
    ax.major_tick_line_color = "black"
    ax.minor_tick_line_color = "black"
    ax.major_tick_in = 0
    ax.minor_tick_in = 0
    ax.major_label_text_font = FONT
    ax.major_label_text_color = "black"


def labelled_axis(ax, ticks, minor, labels, standoff):
    style_common(ax)
    ax.ticker = FixedTicker(ticks=ticks, minor_ticks=minor)
    ax.major_label_overrides = {t: s for t, s in zip(ticks, labels)}
    ax.major_tick_out = 10
    ax.minor_tick_out = 5
    ax.major_label_text_font_size = "26px"
    ax.major_label_standoff = standoff


def tick_only_axes(p, bounds):
    # long ticks at the labelled positions, short ones between, no tick texts
    a1 = p.xaxis[0]
    style_common(a1)
    a1.ticker = FixedTicker(ticks=[], minor_ticks=X_TICKS)
    a1.major_tick_out = 0
    a1.minor_tick_out = 10
    a1.major_label_standoff = 0
    a2 = LinearAxis(ticker=FixedTicker(ticks=[], minor_ticks=X_MINOR))
    style_common(a2)
    a2.axis_line_color = None
    a2.major_tick_out = 0
    a2.minor_tick_out = 5
    a2.major_label_standoff = 0
    if bounds is not None:
        a1.bounds = bounds
        a2.bounds = bounds
    p.add_layout(a2, "below")


def make_fig(height, x_range, y_range, top, bottom, right):
    p = figure(width=FIG_W, height=height, x_range=x_range, y_range=y_range,
               output_backend="svg", toolbar_location=None,
               min_border_left=B_LEFT, min_border_right=right,
               min_border_top=top, min_border_bottom=bottom)
    p.xgrid.visible = False
    p.ygrid.visible = False
    p.background_fill_color = "white"
    p.border_fill_color = "white"
    no_align(p)
    return p


def blank_fig(width, height):
    p = figure(width=width, height=height, x_range=Range1d(0, width), y_range=Range1d(0, height),
               output_backend="svg", toolbar_location=None, min_border=0,
               x_axis_location=None, y_axis_location=None)
    p.outline_line_color = None
    p.background_fill_color = "white"
    p.border_fill_color = "white"
    p.grid.visible = False
    no_align(p)
    return p


# ---- main panel ----
MAIN_H = 358
pm = make_fig(MAIN_H, main_xr, Range1d(0.6, 1.05), 4, 20, MAIN_B_RIGHT)
pm.outline_line_color = "black"
pm.outline_line_width = 2
pm.outline_line_alpha = 1
tick_only_axes(pm, None)
labelled_axis(pm.yaxis[0], Y_TICKS, Y_MINOR, Y_TICK_LABELS, 8)

for ys, c in list(zip(MAIN, COLORS))[::-1]:
    n = min(len(WAVENUMBER), len(ys))
    pm.line(WAVENUMBER[:n], ys[:n], line_color=c, line_width=1.5)
    pm.scatter(WAVENUMBER[:n], ys[:n], marker="circle", size=12,
               fill_color=None, line_color=c, line_width=1)

pm.add_layout(BoxAnnotation(left=px_to_x(753), right=px_to_x(871), top=main_y(23), bottom=main_y(253),
                            fill_color="black", fill_alpha=1, line_color=None))
pm.add_layout(BoxAnnotation(left=px_to_x(746), right=px_to_x(863), top=main_y(16), bottom=main_y(246),
                            fill_color="white", fill_alpha=1, line_color="black", line_width=1.2))
for k, (name, c) in enumerate(zip(PRESSURES, COLORS)):
    pm.add_layout(Label(x=px_to_x(852), y=main_y(40 + 30.5 * k), text=name, text_color=c,
                        text_font=FONT, text_font_size="24.5px", text_font_style="bold",
                        text_align="right", text_baseline="middle"))

# ---- residual panels ----
# (fig height, border top, border bottom, ref frame top, ref frame bottom, box centre x, y, padding)
panel_specs = [
    (81, 15, 13, 373, 426, 892.5, 399.0, (10, 6, 10, 6)),
    (77, 14, 15, 453, 501, 915.0, 474.5, (6, 16, 6, 16)),
    (117, 15, 50, 531, 583, 902.0, 552.5, (6, 20, 6, 20)),
]
res_sets = [RES_D0, RES_Q, RES_B]
draw_order = [0, 2, 3, 4, 5, 6, 1]
BOUNDS = (X0, X1)

res_figs = []
for idx, (spec, res, name) in enumerate(zip(panel_specs, res_sets, MODEL_NAMES)):
    h, bt, bb, ft, fb, cx, cy, pad = spec
    p = make_fig(h, res_xr, Range1d(-5, 5), bt, bb, 0)
    p.outline_line_color = None
    last = idx == len(panel_specs) - 1
    if last:
        bx = p.xaxis[0]
        labelled_axis(bx, X_TICKS, X_MINOR, X_TICK_LABELS, 10)
        bx.bounds = BOUNDS
    else:
        tick_only_axes(p, BOUNDS)
    labelled_axis(p.yaxis[0], RES_TICKS, [], RES_TICK_LABELS, 8)
    top_ax = LinearAxis(ticker=FixedTicker(ticks=[], minor_ticks=[]))
    style_common(top_ax)
    top_ax.major_tick_out = 0
    top_ax.minor_tick_out = 0
    top_ax.major_label_standoff = 0
    top_ax.bounds = BOUNDS
    p.add_layout(top_ax, "above")
    for j in draw_order:
        ys = res[j]
        n = min(len(WAVENUMBER), len(ys))
        p.line(WAVENUMBER[:n], ys[:n], line_color=COLORS[j], line_width=1.3)
    lx = px_to_x(cx)
    ly = 5 - (cy - ft) / (fb - ft) * 10
    common = dict(x=lx, y=ly, text=name, text_font=FONT, text_font_size="24px",
                  text_align="center", text_baseline="middle", padding=pad,
                  border_line_width=1.2)
    p.add_layout(Label(text_color="black", background_fill_color="black",
                       border_line_color="black", x_offset=7, y_offset=-7, **common))
    p.add_layout(Label(text_color="black", background_fill_color="white",
                       border_line_color="black", **common))
    res_figs.append(p)

# ---- x-axis title strip (centred under the data frame) ----
used_h = MAIN_H + sum(s[0] for s in panel_specs)
XLAB_H = TOTAL_H - used_h
px_lab = blank_fig(FIG_W, XLAB_H)
px_lab.add_layout(Label(x=508.5 - LAB_W, y=XLAB_H - (649 - used_h), text="Wavenumber (cm⁻¹)",
                        text_font=FONT, text_font_size="27px", text_align="center",
                        text_baseline="middle", text_color="black"))

# ---- left strip carrying the two y-axis titles ----
pl = blank_fig(LAB_W, TOTAL_H)
pl.add_layout(Label(x=25, y=TOTAL_H - 157, text="1/cτ (10⁻⁶ cm⁻¹)", angle=math.pi / 2,
                    text_font=FONT, text_font_size="27px", text_align="center",
                    text_baseline="middle", text_color="black"))
pl.add_layout(Label(x=30, y=TOTAL_H - 456, text="Exp.-fit (10⁻¹⁰ cm⁻¹)", angle=math.pi / 2,
                    text_font=FONT, text_font_size="27px", text_align="center",
                    text_baseline="middle", text_color="black"))

layout = row(pl, column(pm, *res_figs, px_lab))

open("out.html", "w").write(file_html(layout, INLINE))
